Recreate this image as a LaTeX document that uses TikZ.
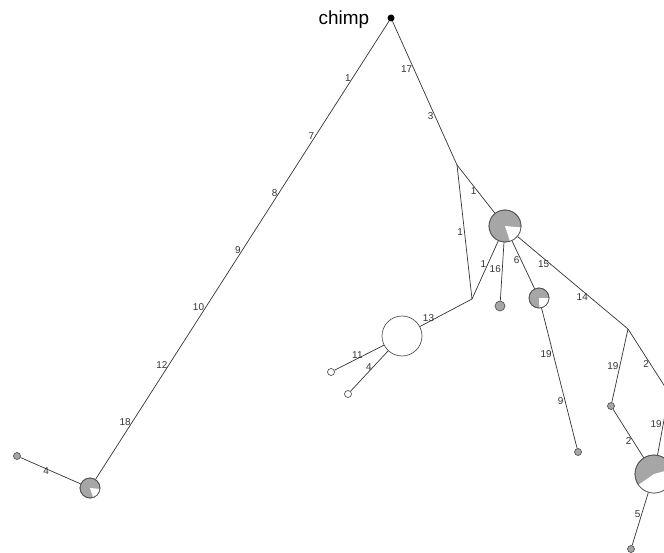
\documentclass[tikz,border=0pt]{standalone}
\usepackage{fontspec}
\setmainfont{Liberation Sans}
\usetikzlibrary{positioning}

\definecolor{hapgray}{HTML}{A6A6A6}
\definecolor{rimgray}{HTML}{555555}
\definecolor{linkgray}{HTML}{333333}

% white slice of a pie node: node, radius, from, to
\newcommand{\piecut}[4]{%
  \fill[white] (#1.center) -- ++(#3:#2) arc[start angle=#3, end angle=#4, radius=#2] -- cycle;
  \draw[rimgray, line width=0.7bp] (#1.center) circle[radius=#2];}

\begin{document}
\begin{tikzpicture}[
  x=1bp, y=-1bp,
  hap/.style={circle, draw=rimgray, fill=hapgray, line width=0.7bp,
              inner sep=0pt, minimum size=#1},
  hapw/.style={hap=#1, fill=white},
  link/.style={draw=linkgray, line width=0.7bp},
  lbl/.style={anchor=east, inner sep=1.2pt, text=linkgray,
              font=\fontsize{10}{11}\selectfont},
]
\useasboundingbox (0,0) rectangle (664,553);
\clip (0,0) rectangle (664,553);

\node[circle, fill=black, inner sep=0pt, minimum size=7bp] (chimp) at (391,18) {};
\node[left=18bp of chimp, inner sep=0pt, font=\fontsize{19}{20}\selectfont,
      yshift=-2bp] (chimplbl) {chimp};

% median vectors
\coordinate (mv1) at (457,165);
\coordinate (mv2) at (472,299);
\coordinate (mv3) at (628,329);
\coordinate (mv4) at (669,393);

\node[hap=20bp] (hA) at (90,488) {};
\node[hap=7bp] (hA1) at (17,456) {};
\node[hap=32bp] (hB) at (505,226) {};
\node[hapw=40bp] (hC) at (402,336) {};
\node[hapw=7bp] (hC1) at (331,372) {};
\node[hapw=7bp] (hC2) at (348,394) {};
\node[hap=10bp] (hB1) at (500,306) {};
\node[hap=20bp] (hM) at (539,298) {};
\node[hap=7bp] (hM1) at (578,452) {};
\node[hap=7bp] (hE) at (611,406) {};
\node[hap=38bp] (hD) at (654,474) {};
\node[hap=7bp] (hD1) at (631,549) {};

\draw[link] (chimp) -- node[lbl, pos=.125] {1} node[lbl, pos=.25] {7}
  node[lbl, pos=.375] {8} node[lbl, pos=.5] {9} node[lbl, pos=.625] {10}
  node[lbl, pos=.75] {12} node[lbl, pos=.875] {18} (hA);
\draw[link] (hA) -- node[lbl, pos=.5] {4} (hA1);
\draw[link] (chimp) -- node[lbl, pos=.33] {17} node[lbl, pos=.66] {3} (mv1);
\draw[link] (mv1) -- node[lbl, pos=.55] {1} (hB);
\draw[link] (mv1) -- node[lbl] {1} (mv2);
\draw[link] (mv2) -- node[lbl, pos=.6] {1} (hB);
\draw[link] (mv2) -- node[lbl, pos=.7] {13} (hC);
\draw[link] (hC) -- node[lbl, pos=.4] {11} (hC1);
\draw[link] (hC) -- node[lbl, pos=.4] {4} (hC2);
\draw[link] (hB) -- node[lbl, pos=.45] {16} (hB1);
\draw[link] (hB) -- node[lbl, pos=.4] {6} (hM);
\draw[link] (hM) -- node[lbl, pos=.33] {19} node[lbl, pos=.66] {9} (hM1);
\draw[link] (hB) -- node[lbl, pos=.3] {15} node[lbl, pos=.65] {14} (mv3);
\draw[link] (mv3) -- node[lbl] {19} (hE);
\draw[link] (mv3) -- node[lbl, pos=.55] {2} (mv4);
\draw[link] (hE) -- node[lbl, pos=.65] {2} (hD);
\draw[link] (mv4) -- node[lbl, pos=.5] {19} (hD);
\draw[link] (hD) -- node[lbl, pos=.4] {5} (hD1);

\piecut{hA}{10}{5}{72}
\piecut{hB}{16}{5}{72}
\piecut{hM}{10}{0}{88}
\piecut{hD}{19}{-15}{145}
\end{tikzpicture}
\end{document}
